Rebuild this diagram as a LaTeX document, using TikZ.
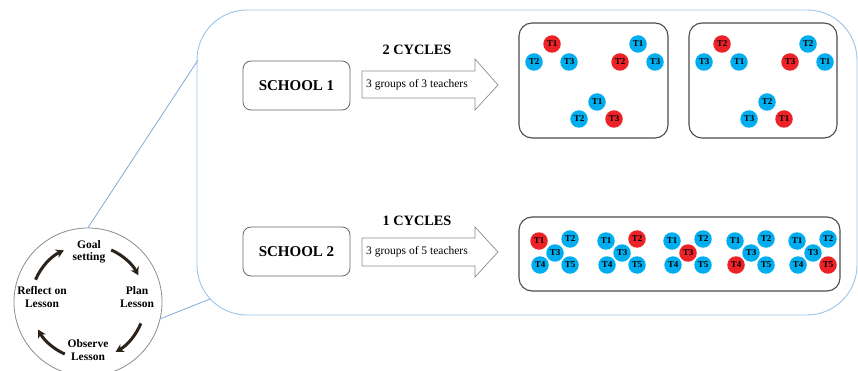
\documentclass[tikz,border=0pt]{standalone}
\usepackage{fontspec}
\setmainfont{Liberation Serif}
\usetikzlibrary{arrows.meta}
\definecolor{tblue}{HTML}{00AEEF}
\definecolor{tred}{HTML}{EC2227}
\definecolor{frameblue}{HTML}{9CC3E6}
\definecolor{linkblue}{HTML}{7EAADB}
\definecolor{cycarrow}{HTML}{2B2219}
\begin{document}
\begin{tikzpicture}[x=1pt,y=-1pt,
 tb/.style={circle,fill=tblue,minimum size=17.5pt,inner sep=0pt,font=\fontsize{9}{9}\selectfont\bfseries},
 tr/.style={tb,fill=tred},
 schoolbox/.style={draw=black!60,line width=0.8pt,rounded corners=8pt,minimum width=107pt,minimum height=49pt,font=\fontsize{15}{16}\selectfont\bfseries},
 groupbox/.style={draw=black!70,line width=1.1pt,rounded corners=13pt,inner sep=0pt},
 bigarrow/.style={draw=black!45,line width=0.7pt,fill=white},
 arrowtext/.style={font=\fontsize{11.5}{12}\selectfont,inner sep=0pt},
 cyclelabel/.style={font=\fontsize{14.3}{15}\selectfont\bfseries,inner sep=0pt},
 cyctext/.style={font=\fontsize{11.5}{12.5}\selectfont\bfseries,align=center,inner sep=0pt},
 cycarr/.style={draw=cycarrow,line width=3pt,-{Stealth[length=8pt,width=9pt]}},
 link/.style={draw=linkblue,line width=0.8pt},
]
\useasboundingbox (0,0) rectangle (858,371);
% big frame
\draw[draw=frameblue,line width=0.9pt,rounded corners=50pt] (197,10) rectangle (857,315);
% cycle circle
\node[circle,draw=black!45,line width=0.8pt,minimum size=148pt,inner sep=0pt] (cyc) at (88,302) {};
\coordinate (rtop) at (198,60);
\coordinate (rbot) at (210,299);
\draw[link] (cyc.north) -- (rtop);
\draw[link] (cyc.-13) -- (rbot);
\node[cyctext] (goal) at (89,252) {Goal\\setting};
\node[cyctext] (plan) at (137,297) {Plan\\Lesson};
\node[cyctext] (obs) at (88,350) {Observe\\Lesson};
\node[cyctext] (refl) at (42,297) {Reflect on\\Lesson};
\draw[cycarr] (cyc.center) ++(-66:57) arc[start angle=-66,end angle=-28,radius=57];
\draw[cycarr] (cyc.center) ++(22:57) arc[start angle=22,end angle=61,radius=57];
\draw[cycarr] (cyc.center) ++(114:57) arc[start angle=114,end angle=151,radius=57];
\draw[cycarr] (cyc.center) ++(203:57) arc[start angle=203,end angle=245,radius=57];
% school 1
\node[schoolbox] (s1) at (296.5,85.5) {SCHOOL 1};
\draw[bigarrow] (362,71) -- (475,71) -- (475,59) -- (498,85) -- (475,110) -- (475,98) -- (362,98) -- cycle;
\node[arrowtext] (a1) at (417,85) {3 groups of 3 teachers};
\node[cyclelabel] (c1) at (417,50) {2 CYCLES};
% school 2
\node[schoolbox] (s2) at (296.5,251.5) {SCHOOL 2};
\draw[bigarrow] (362,238) -- (475,238) -- (475,227) -- (498,252) -- (475,277) -- (475,266) -- (362,266) -- cycle;
\node[arrowtext] (a2) at (417,252) {3 groups of 5 teachers};
\node[cyclelabel] (c2) at (417,221) {1 CYCLES};
% group boxes
\node[groupbox,minimum width=149pt,minimum height=115pt] (g1) at (593.5,80.5) {};
\node[groupbox,minimum width=148pt,minimum height=115pt] (g2) at (763,80.5) {};
\node[groupbox,minimum width=321pt,minimum height=74pt] (g3) at (679.5,254) {};
% cycle 1 groups
\node[tr] (p1) at (552,44) {T1};
\node[tb] (p2) at (534,62) {T2};
\node[tb] (p3) at (569,62) {T3};
\node[tb] (q1) at (638,44) {T1};
\node[tr] (q2) at (620,62) {T2};
\node[tb] (q3) at (655,62) {T3};
\node[tb] (r1) at (597,102) {T1};
\node[tb] (r2) at (579,119) {T2};
\node[tr] (r3) at (614,119) {T3};
% cycle 2 groups
\node[tr] (u2) at (722,44) {T2};
\node[tb] (u3) at (704,62) {T3};
\node[tb] (u1) at (739,62) {T1};
\node[tb] (v2) at (808,44) {T2};
\node[tr] (v3) at (790,62) {T3};
\node[tb] (v1) at (825,62) {T1};
\node[tb] (w2) at (767,102) {T2};
\node[tb] (w3) at (749,119) {T3};
\node[tr] (w1) at (784,119) {T1};
% school 2 groups of five
\foreach \gx/\sa/\sb/\sc/\sd/\se [count=\i] in {539/tr/tb/tb/tb/tb,606/tb/tr/tb/tb/tb,672/tb/tb/tr/tb/tb,735/tb/tb/tb/tr/tb,797/tb/tb/tb/tb/tr}{
  \node[\sa] (f\i a) at (\gx,241) {T1};
  \node[\sb] (f\i b) at (\gx+31,239) {T2};
  \node[\sc] (f\i c) at (\gx+16,253) {T3};
  \node[\sd] (f\i d) at (\gx+1,265) {T4};
  \node[\se] (f\i e) at (\gx+31,265) {T5};
}
\end{tikzpicture}
\end{document}
